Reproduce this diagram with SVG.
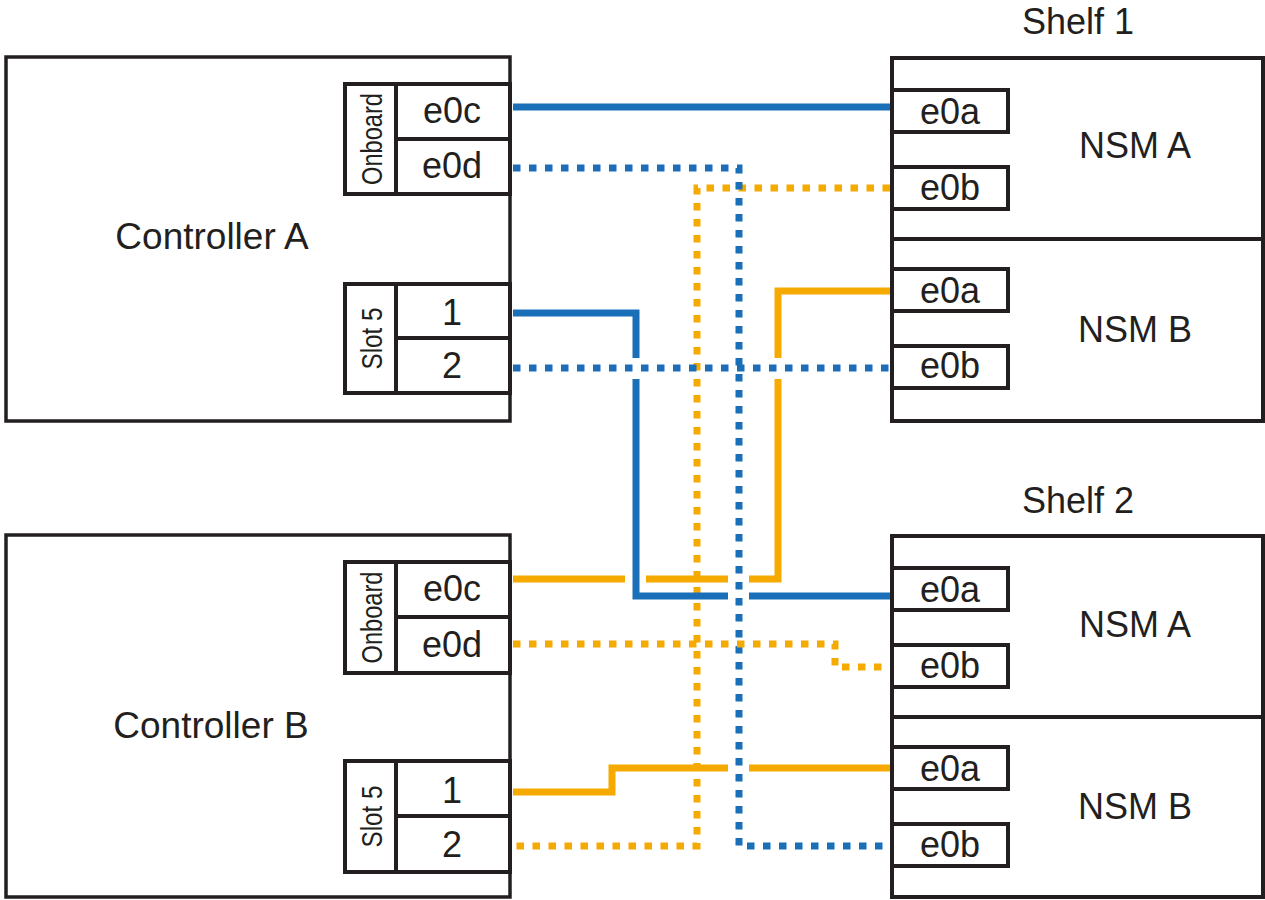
<svg xmlns="http://www.w3.org/2000/svg" width="1265" height="900" viewBox="0 0 1265 900">
<style>
.box{fill:none;stroke:#231f20;stroke-width:3.5}
.pb{fill:none;stroke:#231f20;stroke-width:4}
.t{font-family:"Liberation Sans",Arial,sans-serif;fill:#231f20;text-anchor:middle}
.big{font-size:36px}
.ctl{font-size:37px}
.lab{font-size:30px}
.b{fill:none;stroke:#1a70b8;stroke-width:7;stroke-linecap:butt;stroke-linejoin:miter}
.o{fill:none;stroke:#f6aa00;stroke-width:7;stroke-linecap:butt;stroke-linejoin:miter}
.d{stroke-dasharray:7.5 8.5}
</style>
<rect width="1265" height="900" fill="#ffffff"/>

<g id="controller-a">
<rect class="box" x="6" y="57" width="504" height="364"/>
<text class="t ctl" x="212" y="249">Controller A</text>
<rect class="pb" x="345" y="84" width="165" height="110"/>
<line class="pb" x1="396" y1="84" x2="396" y2="194"/>
<line class="pb" x1="396" y1="139" x2="510" y2="139"/>
<text class="t lab" transform="translate(382,139) rotate(-90)" textLength="92" lengthAdjust="spacingAndGlyphs">Onboard</text>
<text class="t big" x="452" y="123">e0c</text>
<text class="t big" x="452" y="178">e0d</text>
<rect class="pb" x="345" y="284" width="165" height="109"/>
<line class="pb" x1="396" y1="284" x2="396" y2="393"/>
<line class="pb" x1="396" y1="338" x2="510" y2="338"/>
<text class="t lab" transform="translate(382,338.5) rotate(-90)" textLength="62" lengthAdjust="spacingAndGlyphs">Slot 5</text>
<text class="t big" x="452" y="325">1</text>
<text class="t big" x="452" y="378">2</text>
</g>

<g id="controller-b">
<rect class="box" x="6" y="535" width="504" height="362"/>
<text class="t ctl" x="211" y="738">Controller B</text>
<rect class="pb" x="345" y="562" width="165" height="111"/>
<line class="pb" x1="396" y1="562" x2="396" y2="673"/>
<line class="pb" x1="396" y1="617" x2="510" y2="617"/>
<text class="t lab" transform="translate(382,617.5) rotate(-90)" textLength="92" lengthAdjust="spacingAndGlyphs">Onboard</text>
<text class="t big" x="452" y="601">e0c</text>
<text class="t big" x="452" y="657">e0d</text>
<rect class="pb" x="345" y="761" width="165" height="111"/>
<line class="pb" x1="396" y1="761" x2="396" y2="872"/>
<line class="pb" x1="396" y1="816" x2="510" y2="816"/>
<text class="t lab" transform="translate(382,816.5) rotate(-90)" textLength="62" lengthAdjust="spacingAndGlyphs">Slot 5</text>
<text class="t big" x="452" y="803">1</text>
<text class="t big" x="452" y="857">2</text>
</g>

<g id="shelf-1">
<text class="t big" x="1078" y="34">Shelf 1</text>
<rect class="pb" x="892" y="58" width="371" height="363"/>
<line class="pb" x1="892" y1="239" x2="1263" y2="239"/>
<rect class="pb" x="892" y="90" width="116" height="42"/>
<rect class="pb" x="892" y="167" width="116" height="42"/>
<rect class="pb" x="892" y="269" width="116" height="42"/>
<rect class="pb" x="892" y="346" width="116" height="42"/>
<text class="t big" x="950" y="124">e0a</text>
<text class="t big" x="950" y="200">e0b</text>
<text class="t big" x="950" y="303">e0a</text>
<text class="t big" x="950" y="378">e0b</text>
<text class="t big" x="1135" y="158">NSM A</text>
<text class="t big" x="1135" y="342">NSM B</text>
</g>

<g id="shelf-2">
<text class="t big" x="1078" y="513">Shelf 2</text>
<rect class="pb" x="892" y="536" width="371" height="361"/>
<line class="pb" x1="892" y1="717" x2="1263" y2="717"/>
<rect class="pb" x="892" y="568" width="116" height="42"/>
<rect class="pb" x="892" y="645" width="116" height="42"/>
<rect class="pb" x="892" y="747" width="116" height="42"/>
<rect class="pb" x="892" y="824" width="116" height="42"/>
<text class="t big" x="950" y="602">e0a</text>
<text class="t big" x="950" y="678">e0b</text>
<text class="t big" x="950" y="781">e0a</text>
<text class="t big" x="950" y="857">e0b</text>
<text class="t big" x="1135" y="637">NSM A</text>
<text class="t big" x="1135" y="819">NSM B</text>
</g>

<g id="connectors">
<path class="o d" d="M890,188 H697 V846 H513"/>
<path class="b d" d="M513,168 H739 V846 H890"/>
<path class="b d" d="M513,368 H890"/>
<path class="o d" d="M513,644 H835 V667 H890"/>
<path class="b" d="M513,107 H890"/>
<path class="b" d="M513,313 H636 V358 M636,379 V596 H728 M749,596 H890"/>
<path class="o" d="M890,291 H778 V358 M778,379 V579 H749 M728,579 H646 M625,579 H513"/>
<path class="o" d="M513,792 H612 V768 H728 M749,768 H890"/>
</g>
</svg>
